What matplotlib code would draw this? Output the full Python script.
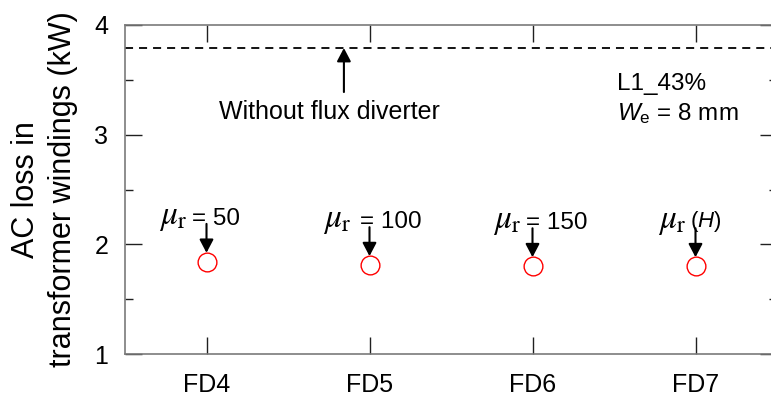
import matplotlib
matplotlib.use('Agg')
import matplotlib.pyplot as plt

# ---- data ----
categories = ['FD4', 'FD5', 'FD6', 'FD7']
ac_loss_kw = [1.84, 1.81, 1.80, 1.80]
no_diverter_kw = 3.79
mu_symbol = r'$\mu_\mathrm{r}$'
mu_values = ['= 50', '= 100', '= 150', r'($\it{H}$)']
case_label = 'L1_43%'
we_label = r'$\it{W}_\mathrm{e}$ = 8 mm'

plt.rcParams['font.family'] = ['Liberation Sans', 'DejaVu Sans']
plt.rcParams['mathtext.fontset'] = 'stix'
plt.rcParams['mathtext.rm'] = 'Liberation Sans'
plt.rcParams['mathtext.it'] = 'Liberation Sans:italic'
plt.rcParams['mathtext.bf'] = 'Liberation Sans:bold'
plt.rcParams['lines.scale_dashes'] = False

W, H = 771, 396
fig = plt.figure(figsize=(W / 100, H / 100), dpi=100)
ax = fig.add_axes([125 / W, 1 - 354 / H, (777 - 125) / W, (354 - 25) / H])

x = list(range(1, len(categories) + 1))
ax.plot(x, ac_loss_kw, ls='none', marker='o', ms=13.5, mfc='none',
        mec='red', mew=1.0, zorder=3)

ax.axhline(no_diverter_kw, color='black', lw=1.3, dashes=(5.8, 4.3))

ax.set_xlim(0.5, 4.5)
ax.set_ylim(1, 4)
ax.set_xticks(x)
ax.set_xticklabels(categories)
ax.set_yticks([1, 2, 3, 4])
ax.set_yticks([1.5, 2.5, 3.5], minor=True)

for s in ax.spines.values():
    s.set_color('#7a7a7a')
    s.set_linewidth(1.2)
ax.tick_params(which='both', direction='in', top=True, right=True,
               color='#202020', width=1.0, labelsize=18)
ax.tick_params(which='major', length=12.2, pad=12)
ax.tick_params(which='minor', length=6)
ax.tick_params(axis='x', which='major', pad=14)

ax.set_ylabel('AC loss in\ntransformer windings (kW)', fontsize=22,
              linespacing=1.3, labelpad=12)

arrow_style = '-|>,head_length=0.8,head_width=0.42'
# per-label horizontal placement (pixels relative to the marker)
mu_right = [-19, -18, -11, -9]
val_left = [-14, -10, -6, -5]
for xi, yi, val, mr, vl in zip(x, ac_loss_kw, mu_values, mu_right, val_left):
    ax.annotate('', xy=(xi, yi), xytext=(0, 38), textcoords='offset pixels',
                arrowprops=dict(arrowstyle=arrow_style, color='black', lw=1.5,
                                shrinkA=0, shrinkB=6.5))
    ax.annotate(mu_symbol, xy=(xi, yi), xytext=(mr, 38),
                textcoords='offset pixels', ha='right', va='baseline',
                fontsize=24)
    is_h = val.startswith('(')
    ax.annotate(val, xy=(xi, yi), xytext=(vl, 39 if is_h else 37),
                textcoords='offset pixels', ha='left', va='baseline',
                fontsize=16 if is_h else 17.5, math_fontfamily='custom')

# without flux diverter
ax.annotate('', xy=(1.843, no_diverter_kw), xytext=(0, -44),
            textcoords='offset pixels',
            arrowprops=dict(arrowstyle=arrow_style, color='black', lw=1.5,
                            shrinkA=0, shrinkB=0))
ax.annotate('Without flux diverter', xy=(1.843, no_diverter_kw),
            xytext=(-14, -71), textcoords='offset pixels', ha='center',
            va='baseline', fontsize=18)

ax.text(3.518, 3.407, case_label, fontsize=17.5, ha='left', va='baseline')
ax.text(3.518, 3.134, we_label, fontsize=17.5, ha='left', va='baseline',
        math_fontfamily='custom')

fig.savefig('out.png', dpi=100, facecolor='white')
